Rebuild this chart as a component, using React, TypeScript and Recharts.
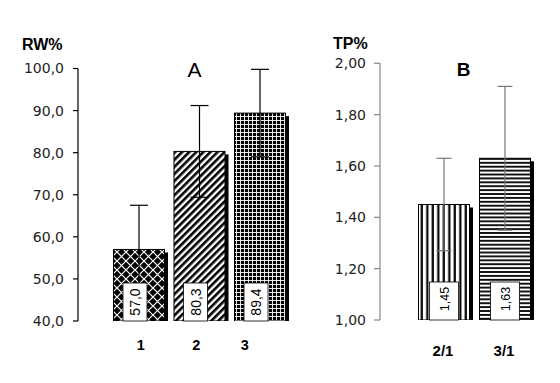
import React from 'react';
import { BarChart, Bar, XAxis, YAxis, ErrorBar, LabelList } from 'recharts';

const rwCategories = ['1', '2', '3'];
const rwValues = [57.0, 80.3, 89.4];
const rwErrors = [10.5, 10.9, 10.4];
const rwTicks = [40, 50, 60, 70, 80, 90, 100];

const tpCategories = ['2/1', '3/1'];
const tpValues = [1.45, 1.63];
const tpErrors = [0.18, 0.28];
const tpTicks = [1.0, 1.2, 1.4, 1.6, 1.8, 2.0];

const rwData = rwCategories.map((c, i) => ({ name: c, value: rwValues[i], err: rwErrors[i] }));
const tpData = tpCategories.map((c, i) => ({ name: c, value: tpValues[i], err: tpErrors[i] }));

const FONT = '"DejaVu Sans", sans-serif';
const TITLE_FONT = '"Liberation Sans", Arial, sans-serif';

const fmt1 = (v: number) => v.toFixed(1).replace('.', ',');
const fmt2 = (v: number) => v.toFixed(2).replace('.', ',');

const makeShape = (patterns: string[]) => (props: any) => {
  const { x, y, width, height, index } = props;
  if (height == null || isNaN(height)) return null;
  return (
    <g>
      <rect x={x + width} y={y + 3} width={3.5} height={height - 3} fill="#000" />
      <rect x={x} y={y} width={width} height={height} fill={`url(#${patterns[index]})`} stroke="#000" strokeWidth={1} />
    </g>
  );
};

const makeLabel = (format: (v: number) => string, boxW: number, boxDx: number, fontSize: number, textOff: number, baseDx: number) => (props: any) => {
  const vb = props.viewBox && props.viewBox.width != null ? props.viewBox : props;
  const x = Number(vb.x);
  const y = Number(vb.y);
  const width = Number(vb.width);
  const height = Number(vb.height);
  if (isNaN(x) || isNaN(height)) return null;
  const bc = x + width / 2 + boxDx;
  const bottom = y + height;
  const boxH = 38;
  return (
    <g>
      <rect x={bc - boxW / 2} y={bottom - boxH} width={boxW} height={boxH} fill="#fff" stroke="#000" strokeWidth={0.8} />
      <text
        transform={`translate(${bc + baseDx},${bottom - textOff}) rotate(-90)`}
        textAnchor="middle"
        fontFamily={TITLE_FONT}
        fontSize={fontSize}
        fill="#000"
      >
        {format(Number(props.value))}
      </text>
    </g>
  );
};

const makeTick = (offsets: number[], dy: number, size: number) => (props: any) => {
  const { x, y, payload, index } = props;
  return (
    <text x={x + (offsets[index] ?? 0)} y={y + dy} textAnchor="middle" fontFamily={TITLE_FONT} fontWeight="bold" fontSize={size} fill="#000">
      {payload.value}
    </text>
  );
};

const Defs = () => (
  <defs>
    <pattern id="pCross" patternUnits="userSpaceOnUse" width="9" height="9">
      <rect width="9" height="9" fill="#000" />
      <path d="M0,0 L9,9 M9,0 L0,9" stroke="#fff" strokeWidth="1.2" />
    </pattern>
    <pattern id="pDiag" patternUnits="userSpaceOnUse" width="5" height="5" patternTransform="rotate(45)">
      <rect width="5" height="5" fill="#fff" />
      <rect width="2.6" height="5" fill="#000" />
    </pattern>
    <pattern id="pGrid" patternUnits="userSpaceOnUse" width="4" height="4">
      <rect width="4" height="4" fill="#000" />
      <rect width="0.9" height="4" fill="#fff" />
      <rect width="4" height="0.9" fill="#fff" />
    </pattern>
    <pattern id="pVert" patternUnits="userSpaceOnUse" width="5.5" height="5">
      <rect width="5.5" height="5" fill="#fff" />
      <rect x="3.2" width="2.2" height="5" fill="#000" />
    </pattern>
    <pattern id="pHoriz" patternUnits="userSpaceOnUse" width="5" height="3.9">
      <rect width="5" height="3.9" fill="#fff" />
      <rect y="2" width="5" height="1.8" fill="#000" />
    </pattern>
  </defs>
);

const LeftTick = makeTick([2, -3, -15], 27, 14.5);
const RightTick = makeTick([-1, -1], 34, 15);

export default function App() {
  return (
    <div style={{ position: 'absolute', left: 0, top: 0, width: 560, height: 383, background: '#fff', overflow: 'hidden' }}>
      <div style={{ position: 'absolute', left: 0, top: 0 }}>
        <BarChart width={300} height={383} data={rwData} margin={{ top: 68.5, right: 10, bottom: 32, left: 0 }}>
          <Defs />
          <XAxis dataKey="name" axisLine={false} tickLine={false} tickSize={0} height={30} padding={{ left: 30.5, right: 0 }} tick={LeftTick} interval={0} />
          <YAxis
            domain={[40, 100]}
            ticks={rwTicks}
            width={78}
            tickFormatter={fmt1}
            axisLine={{ stroke: '#000', strokeWidth: 1.2 }}
            tickLine={{ stroke: '#000', strokeWidth: 1.2 }}
            tickSize={5}
            tickMargin={9}
            tick={{ fontFamily: FONT, fontSize: 14, fill: '#222' }}
            allowDataOverflow
          />
          <Bar dataKey="value" barSize={51} isAnimationActive={false} shape={makeShape(['pCross', 'pDiag', 'pGrid'])}>
            <ErrorBar dataKey="err" width={9} stroke="#000" strokeWidth={1.2} />
            <LabelList dataKey="value" content={makeLabel(fmt1, 24, -4, 14, 19, 5)} />
          </Bar>
        </BarChart>
      </div>
      <div style={{ position: 'absolute', left: 280, top: 0 }}>
        <BarChart width={280} height={383} data={tpData} margin={{ top: 63.3, right: 24.5, bottom: 33, left: 0 }}>
          <Defs />
          <XAxis dataKey="name" axisLine={false} tickLine={false} tickSize={0} height={30} padding={{ left: 33.5, right: 0 }} tick={RightTick} interval={0} />
          <YAxis
            domain={[1, 2]}
            ticks={tpTicks}
            width={100}
            tickFormatter={fmt2}
            axisLine={{ stroke: '#888', strokeWidth: 1.2 }}
            tickLine={{ stroke: '#888', strokeWidth: 1.2 }}
            tickSize={6}
            tickMargin={8}
            tick={{ fontFamily: FONT, fontSize: 14, fill: '#222' }}
            allowDataOverflow
          />
          <Bar dataKey="value" barSize={51} isAnimationActive={false} shape={makeShape(['pVert', 'pHoriz'])}>
            <ErrorBar dataKey="err" width={7.5} stroke="#777" strokeWidth={1.2} />
            <LabelList dataKey="value" content={makeLabel(fmt2, 29, 0, 12.5, 21, 4.5)} />
          </Bar>
        </BarChart>
      </div>
      <svg width={560} height={383} style={{ position: 'absolute', left: 0, top: 0, pointerEvents: 'none' }}>
        <text x={22} y={49.5} fontFamily={TITLE_FONT} fontWeight="bold" fontSize={16} fill="#000">RW%</text>
        <text x={194.5} y={76.7} textAnchor="middle" fontFamily={TITLE_FONT} fontSize={21} fill="#000">A</text>
        <text x={333} y={48.5} fontFamily={TITLE_FONT} fontWeight="bold" fontSize={16} fill="#000">TP%</text>
        <text x={463.7} y={75.7} textAnchor="middle" fontFamily={TITLE_FONT} fontWeight="bold" fontSize={19} fill="#000">B</text>
      </svg>
    </div>
  );
}
